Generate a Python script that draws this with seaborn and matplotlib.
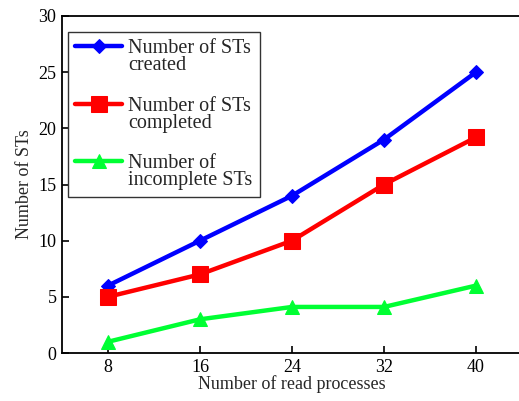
import matplotlib
matplotlib.use("Agg")
import matplotlib.pyplot as plt
import numpy as np
import seaborn as sns
import pandas as pd

read_processes = [8, 16, 24, 32, 40]
sts_created = [6, 10, 14, 19, 25]
sts_completed = [5, 7, 10, 15, 19.2]
sts_incomplete = [1, 3, 4.1, 4.1, 6]

series = [
    ("Number of STs\ncreated", sts_created, "#0000ff", "D", 7),
    ("Number of STs\ncompleted", sts_completed, "#ff0000", "s", 12),
    ("Number of\nincomplete STs", sts_incomplete, "#00ff33", "^", 10),
]

sns.set_style("ticks")
plt.rcParams["font.family"] = ["Liberation Serif", "DejaVu Serif"]

fig = plt.figure(figsize=(5.19, 4.01), dpi=100)
ax = fig.add_axes([62 / 519, 48 / 401, 460 / 519, 337 / 401])

for label, values, color, marker, msize in series:
    df = pd.DataFrame({"x": read_processes, "y": values})
    sns.lineplot(data=df, x="x", y="y", ax=ax, color=color, marker=marker,
                 markersize=msize, markeredgecolor=color, linewidth=3.2,
                 label=label)

ax.set_xlim(4, 44)
ax.set_ylim(0, 30)
ax.set_xticks(read_processes)
ax.set_yticks(range(0, 31, 5))
ax.tick_params(direction="in", length=5, width=1.2, labelsize=13,
               colors="black", pad=4)
for side in ["left", "bottom", "top", "right"]:
    ax.spines[side].set_visible(True)
    ax.spines[side].set_linewidth(1.3)
    ax.spines[side].set_color("black")
ax.set_xlabel("Number of read processes", fontsize=13, labelpad=0)
ax.set_ylabel("Number of STs", fontsize=13, labelpad=4)

leg = ax.legend(loc="upper left", fontsize=14.5, frameon=True, fancybox=False,
                edgecolor="#333333", framealpha=1, handlelength=2.35,
                labelspacing=1.05, borderpad=0.35, handletextpad=0.3,
                borderaxespad=0, bbox_to_anchor=(0.013, 0.9525))
leg.get_frame().set_linewidth(1.0)
for txt in leg.get_texts():
    txt.set_linespacing(0.88)

# raise each legend key level with the first line of its two-line label
for handle in leg.legend_handles:
    handle.set_ydata(np.asarray(handle.get_ydata(), dtype=float) + 8.0)

fig.savefig("out.png", dpi=100)
